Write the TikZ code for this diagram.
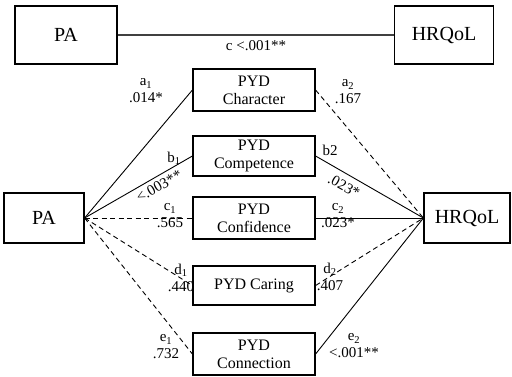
\documentclass[tikz,border=0pt]{standalone}
\usepackage{fontspec}
\setmainfont{Liberation Serif}
\usetikzlibrary{positioning}

\begin{document}
\begin{tikzpicture}[
    x=1pt, y=-1pt,
    every node/.style={font=\fontsize{15}{17}\selectfont},
    bigbox/.style={draw, line width=1.2pt, inner sep=0pt, font=\fontsize{20}{22}\selectfont},
    pydbox/.style={draw, line width=1.2pt, inner sep=0pt, minimum width=122pt, minimum height=42pt,
        align=center, font=\fontsize{16}{18}\selectfont},
    sig/.style={line width=0.9pt},
    nonsig/.style={line width=0.9pt, dash pattern=on 5pt off 3.5pt},
    coef/.style={inner sep=0pt, align=center, font=\fontsize{15}{17}\selectfont},
]
\useasboundingbox (0,0) rectangle (512,376);

% Total effect
\node[bigbox, minimum width=102pt, minimum height=58pt] (paTop) at (66,35) {PA};
\node[bigbox, minimum width=99pt, minimum height=58pt] (hrqolTop) at (444,35) {HRQoL};
\draw[sig, line width=1.3pt, black!75] (paTop.east) -- (hrqolTop.west);
\node[coef] (cTot) at (256,46) {c <.001**};

% Mediation model
\node[bigbox, minimum width=80pt, minimum height=50pt] (pa) at (44,218) {PA};
\node[bigbox, minimum width=86pt, minimum height=50pt] (hrqol) at (467,218) {HRQoL};

\node[pydbox] (character)  at (254,90)  {PYD\\Character};
\node[pydbox, minimum height=40pt] (competence) at (254,156) {PYD\\Competence};
\node[pydbox] (confidence) at (254,218) {PYD\\Confidence};
\node[pydbox, minimum height=39pt] (caring) at (254,285.5) {PYD Caring};
\node[pydbox] (connection) at (254,354) {PYD\\Connection};

% Paths PA -> PYD
\draw[sig]    (pa.east) -- (character.west);
\draw[sig]    (pa.east) -- (competence.west);
\draw[nonsig] (pa.east) -- (confidence.west);
\draw[nonsig] (pa.east) -- (caring.west);
\draw[nonsig] (pa.east) -- (connection.west);

% Paths PYD -> HRQoL
\draw[nonsig] (character.east)  -- (hrqol.west);
\draw[sig]    (competence.east) -- (hrqol.west);
\draw[sig]    (confidence.east) -- (hrqol.west);
\draw[nonsig] (caring.east)     -- (hrqol.west);
\draw[sig]    (connection.east) -- (hrqol.west);

% Coefficients, left side
\node[coef] (a1) at (146,91)  {a\textsubscript{1}\\.014*};
\node[coef] (b1) at (174,158) {b\textsubscript{1}};
\node[coef, rotate=29] (b1p) at (159,186) {<.003**};
\node[coef] (c1) at (170,216) {c\textsubscript{1}\\.565};
\node[coef] (d1) at (181,278) {d\textsubscript{1}\\.440};
\node[coef] (e1) at (166,347) {e\textsubscript{1}\\.732};

% Coefficients, right side
\node[coef] (a2) at (348,92)  {a\textsubscript{2}\\.167};
\node[coef] (b2) at (330,150) {b2};
\node[coef, rotate=-29] (b2p) at (344,186) {.023*};
\node[coef] (c2) at (338,216) {c\textsubscript{2}\\.023*};
\node[coef] (d2) at (330,277) {d\textsubscript{2}\\.407};
\node[coef] (e2) at (354,346) {e\textsubscript{2}\\<.001**};

\end{tikzpicture}
\end{document}
